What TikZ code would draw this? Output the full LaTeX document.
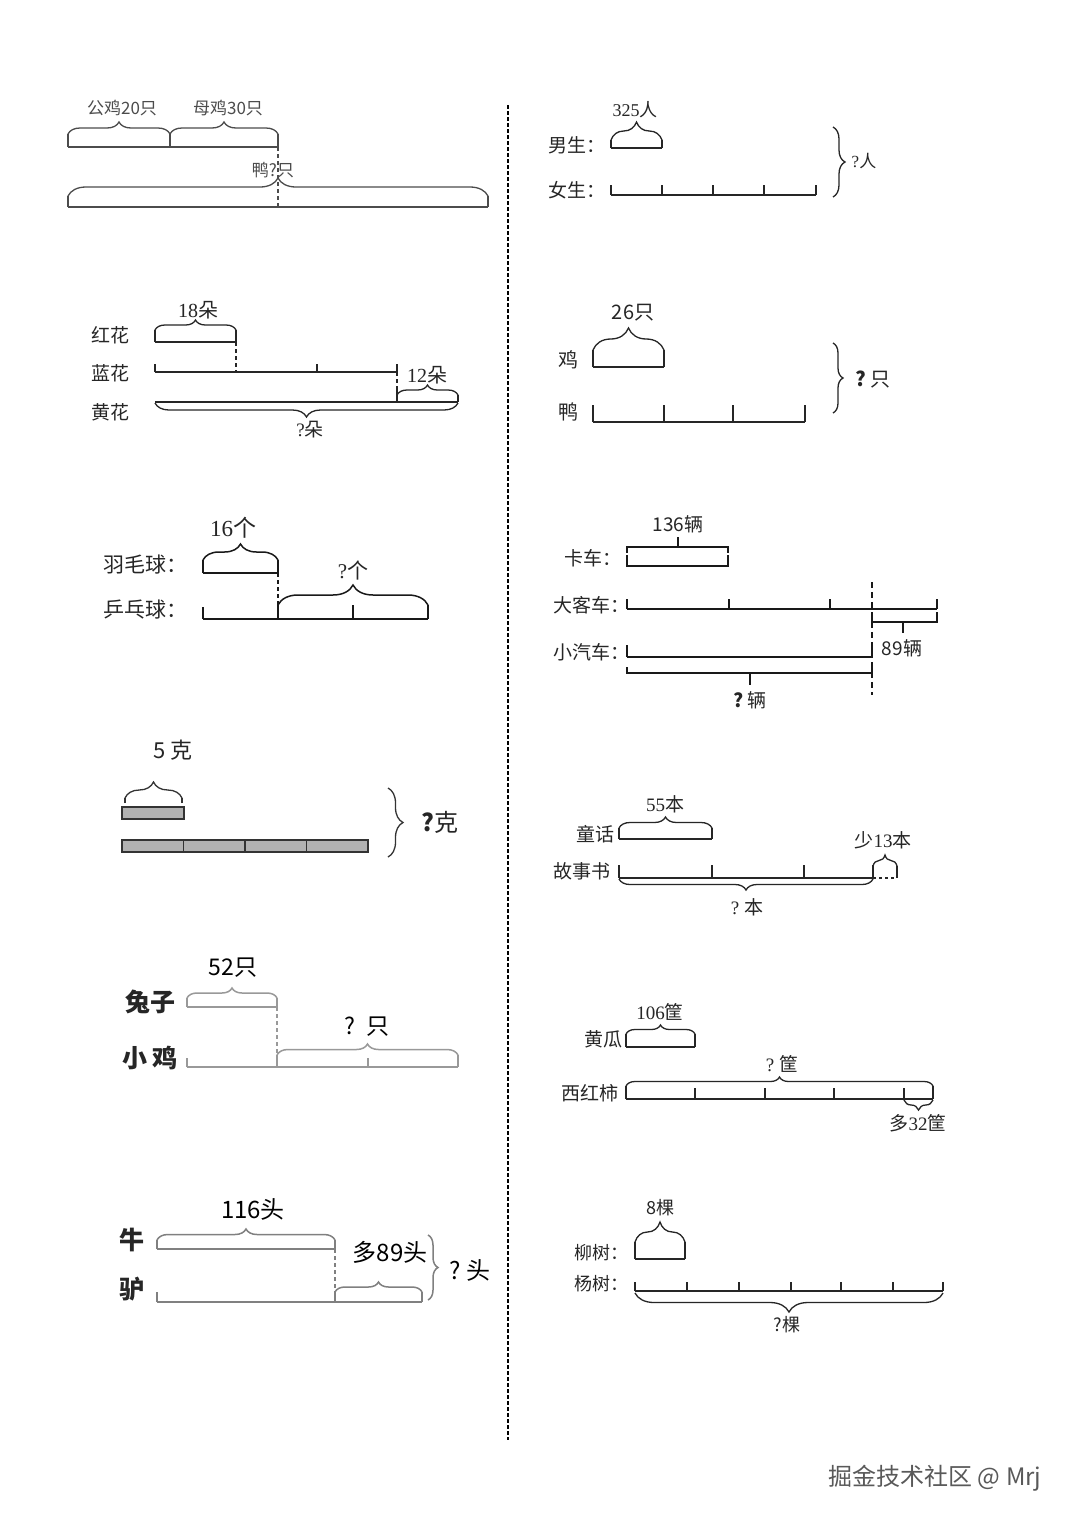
\documentclass[tikz,border=0pt]{standalone}
\usepackage{fontspec}
\setmainfont{Liberation Serif}
\newfontfamily\cjk{Noto Sans CJK SC}
\newcommand\zh[1]{{\cjk #1}}
\usetikzlibrary{decorations.pathreplacing}
\begin{document}
\begin{tikzpicture}[x=1pt,y=-1pt,
  br/.style={decorate,decoration={brace,amplitude=#1}},
  brm/.style={decorate,decoration={brace,amplitude=#1,mirror}},
  dsh/.style={dashed,dash pattern=on 4pt off 3pt},
  fs/.style={font=\fontsize{#1}{#1}\selectfont,inner sep=0pt,text=black!85},
  cj/.style={font=\cjk\fontsize{#1}{#1}\selectfont,inner sep=0pt,text=black!85},
  cjb/.style={font=\cjk\bfseries\fontsize{#1}{#1}\selectfont,inner sep=0pt,text=black!85}]
\fill[white] (0,0) rectangle (1080,1527);
\useasboundingbox (0,0) rectangle (1080,1527);
% divider
\coordinate (dtop) at (508,105);
\coordinate (dbot) at (508,1440);
\draw[line width=1.5pt,dash pattern=on 4pt off 2pt] (dtop) -- (dbot);

% ===== Panel 1 =====
\begin{scope}[every path/.style={line width=1.3pt,draw=black!70}]
\draw (68,147) -- (278,147);
\draw (68,147) -- (68,134) (170,147) -- (170,134) (278,147) -- (278,134);
\draw[br=12] (68,134) -- (170,134);
\draw[br=12] (170,134) -- (278,134);
\draw[dsh] (278,147) -- (278,207);
\draw (68,207) -- (488,207);
\draw (68,207) -- (68,196) (488,207) -- (488,196);
\draw[br=18] (68,196) -- (488,196);
\end{scope}
\node[cj=17,text=black!70] (p1a) at (122,108) {公鸡20只};
\node[cj=17,text=black!70] (p1b) at (228,108) {母鸡30只};
\node[cj=17,text=black!70] (p1c) at (273,170) {鸭?只};

% ===== Panel 2 =====
\begin{scope}[every path/.style={line width=1.3pt,draw=black!85}]
\draw (155,342) -- (236,342);
\draw (155,342) -- (155,330) (236,342) -- (236,330);
\draw[br=10] (155,330) -- (236,330);
\draw[dsh] (236,342) -- (236,372);
\draw (155,372) -- (397,372);
\draw (155,372) -- (155,364) (317,372) -- (317,364) (397,372) -- (397,364);
\draw[dsh] (397,372) -- (397,392);
\draw (397,390) -- (397,402) (458,402) -- (458,395);
\draw[br=10] (397,395) -- (458,395);
\draw (155,402) -- (458,402);
\draw[brm=14] (155,403) -- (458,403);
\end{scope}
\node[cj=19] (p2a) at (110,335) {红花};
\node[cj=19] (p2b) at (110,373) {蓝花};
\node[cj=19] (p2c) at (110,412) {黄花};
\node[fs=20] (p2d) at (198,310) {18\zh{朵}};
\node[fs=20] (p2e) at (427,375) {12\zh{朵}};
\node[fs=19] (p2f) at (310,430) {?\zh{朵}};

% ===== Panel 3 =====
\begin{scope}[every path/.style={line width=1.5pt,draw=black!90}]
\draw (203,573) -- (278,573);
\draw (203,573) -- (203,560) (278,573) -- (278,560);
\draw[br=16] (203,560) -- (278,560);
\draw[dsh] (278,573) -- (278,605);
\draw (203,619) -- (428,619);
\draw (203,619) -- (203,607) (353,619) -- (353,605) (278,619) -- (278,605) (428,619) -- (428,605);
\draw[br=20] (278,605) -- (428,605);
\end{scope}
\node[cj=21] (p3a) at (145,565) {羽毛球：};
\node[cj=21] (p3b) at (145,610) {乒乓球：};
\node[fs=23] (p3c) at (233,528) {16\zh{个}};
\node[fs=21] (p3d) at (353,570) {?\zh{个}};

% ===== Panel 4 =====
\begin{scope}[every path/.style={line width=1.3pt,draw=black!80}]
\draw (125,803) -- (125,798) (182,803) -- (182,798);
\draw[br=16] (125,798) -- (182,798);
\draw[fill=black!30] (122,807) rectangle (184,819);
\draw[fill=black!30] (122,840) rectangle (368,852);
\draw (183.5,840) -- (183.5,852) (245,840) -- (245,852) (306.5,840) -- (306.5,852);
\draw[br=15] (388,788) -- (388,857);
\end{scope}
\node[cj=22] (p4a) at (173,750) {5 克};
\node[cj=24] (p4b) at (440,822) {{\bfseries ?}克};

% ===== Panel 5 =====
\begin{scope}[every path/.style={line width=1.5pt,draw=black!40}]
\draw (187,1007) -- (277,1007);
\draw (187,1007) -- (187,998) (277,1007) -- (277,998);
\draw[br=10] (187,998) -- (277,998);
\draw[dsh] (277,1007) -- (277,1067);
\draw (187,1067) -- (458,1067);
\draw (187,1067) -- (187,1058) (368,1067) -- (368,1058) (277,1067) -- (277,1055) (458,1067) -- (458,1055);
\draw[br=11] (277,1055) -- (458,1055);
\end{scope}
\node[cjb=25] (p5a) at (150,1002) {兔子};
\node[cjb=25] (p5b) at (150,1058) {小\,鸡};
\node[cj=23,text=black] (p5c) at (233,968) {52只};
\node[cj=23,text=black] (p5d) at (367,1027) {?\ \ 只};

% ===== Panel 6 =====
\begin{scope}[every path/.style={line width=1.5pt,draw=black!50}]
\draw (157,1249) -- (335,1249);
\draw (157,1249) -- (157,1240) (335,1249) -- (335,1240);
\draw[br=11] (157,1240) -- (335,1240);
\draw[dsh] (335,1249) -- (335,1302);
\draw (157,1302) -- (422,1302);
\draw (157,1302) -- (157,1292) (335,1302) -- (335,1292) (422,1302) -- (422,1292);
\draw[br=10] (335,1292) -- (422,1292);
\draw[br=10] (428,1235) -- (428,1300);
\end{scope}
\node[cjb=25] (p6a) at (132,1240) {牛};
\node[cjb=25] (p6b) at (132,1289) {驴};
\node[cj=24,text=black] (p6c) at (253,1209) {116头};
\node[cj=24,text=black] (p6d) at (390,1252) {多89头};
\node[cj=24,text=black] (p6e) at (470,1270) {?\ 头};

% ===== Panel 7 =====
\begin{scope}[every path/.style={line width=1.3pt,draw=black!85}]
\draw (611,148) -- (662,148);
\draw (611,148) -- (611,140) (662,148) -- (662,140);
\draw[br=18] (611,140) -- (662,140);
\draw (611,195) -- (816,195);
\foreach \x in {611,662,713,764,816} \draw (\x,195) -- (\x,185);
\draw[br=12] (833,127) -- (833,197);
\end{scope}
\node[cj=19] (p7a) at (577,145) {男生：};
\node[cj=19] (p7b) at (577,190) {女生：};
\node[fs=18] (p7c) at (635,110) {325\zh{人}};
\node[fs=17] (p7d) at (864,161) {?\zh{人}};

% ===== Panel 8 =====
\begin{scope}[every path/.style={line width=1.3pt,draw=black!85}]
\draw (593,367) -- (664,367);
\draw (593,367) -- (593,350) (664,367) -- (664,350);
\draw[br=22] (593,350) -- (664,350);
\draw (593,422) -- (805,422);
\foreach \x in {593,664,733,805} \draw (\x,422) -- (\x,405);
\draw[br=10] (833,343) -- (833,413);
\end{scope}
\node[cj=20] (p8a) at (568,360) {鸡};
\node[cj=20] (p8b) at (568,412) {鸭};
\node[cj=20] (p8c) at (633,313) {26只};
\node[cj=20] (p8d) at (873,380) {{\bfseries ?}\,只};

% ===== Panel 9 =====
\begin{scope}[every path/.style={line width=2.4pt,draw=black!90}]
\draw[line width=1.8pt] (627,553) -- (627,547) -- (728,547) -- (728,553);
\draw[line width=1.8pt] (678,547) -- (678,537);
\draw (627,555) -- (627,566) -- (728,566) -- (728,555);
\draw (627,609) -- (937,609);
\foreach \x in {627,729,830,937} \draw (\x,609) -- (\x,599);
\draw[dash pattern=on 6pt off 4pt] (872,582) -- (872,695);
\draw[line width=1.8pt] (872,612) -- (872,622) -- (937,622) -- (937,612);
\draw[line width=1.8pt] (903,622) -- (903,633);
\draw (627,657) -- (872,657);
\draw (627,657) -- (627,645) (872,657) -- (872,645);
\draw[line width=1.8pt] (627,667) -- (627,673) -- (872,673) -- (872,667);
\draw[line width=1.8pt] (750,673) -- (750,685);
\end{scope}
\node[cj=19] (p9a) at (593,558) {卡车：};
\node[cj=19] (p9b) at (591,605) {大客车：};
\node[cj=19] (p9c) at (591,652) {小汽车：};
\node[cj=19] (p9d) at (678,524) {136辆};
\node[cj=19] (p9e) at (902,648) {89辆};
\node[cj=19] (p9f) at (750,700) {{\bfseries ?}\,辆};

% ===== Panel 10 =====
\begin{scope}[every path/.style={line width=1.3pt,draw=black!85}]
\draw (619,839) -- (712,839);
\draw (619,839) -- (619,828) (712,839) -- (712,828);
\draw[br=11] (619,828) -- (712,828);
\draw (619,878) -- (873,878);
\foreach \x in {619,712,804,873} \draw (\x,878) -- (\x,865);
\draw (897,878) -- (897,866);
\draw[br=11] (873,866) -- (897,866);
\draw[dash pattern=on 3pt off 3pt] (873,878) -- (897,878);
\draw[brm=11] (619,879) -- (873,879);
\end{scope}
\node[cj=19] (p10a) at (595,834) {童话};
\node[cj=19] (p10b) at (582,871) {故事书};
\node[fs=19] (p10c) at (665,804) {55\zh{本}};
\node[fs=19] (p10d) at (883,840) {\zh{少}13\zh{本}};
\node[fs=19] (p10e) at (747,907) {?\ \zh{本}};

% ===== Panel 11 =====
\begin{scope}[every path/.style={line width=1.3pt,draw=black!85}]
\draw (626,1047) -- (695,1047);
\draw (626,1047) -- (626,1034) (695,1047) -- (695,1034);
\draw[br=9] (626,1034) -- (695,1034);
\draw (626,1099) -- (933,1099);
\foreach \x in {695,765,834,904} \draw (\x,1099) -- (\x,1088);
\draw (626,1099) -- (626,1086) (933,1099) -- (933,1086);
\draw[br=9] (626,1086) -- (933,1086);
\draw[brm=10] (904,1100) -- (933,1100);
\end{scope}
\node[cj=19] (p11a) at (603,1039) {黄瓜};
\node[cj=19] (p11b) at (590,1093) {西红柿};
\node[fs=19] (p11c) at (660,1012) {106\zh{筐}};
\node[fs=19] (p11d) at (782,1064) {?\ \zh{筐}};
\node[fs=19] (p11e) at (918,1123) {\zh{多}32\zh{筐}};

% ===== Panel 12 =====
\begin{scope}[every path/.style={line width=1.3pt,draw=black!85}]
\draw (635,1259) -- (685,1259);
\draw (635,1259) -- (635,1242) (685,1259) -- (685,1242);
\draw[br=20] (635,1242) -- (685,1242);
\draw (635,1291) -- (943,1291);
\foreach \x in {635,687,739,791,841,893,943} \draw (\x,1291) -- (\x,1282);
\draw[brm=19] (635,1293) -- (943,1293);
\end{scope}
\node[cj=18] (p12a) at (601,1253) {柳树：};
\node[cj=18] (p12b) at (601,1284) {杨树：};
\node[cj=18] (p12c) at (660,1208) {8棵};
\node[cj=18] (p12d) at (787,1325) {?棵};

% watermark
\node[cj=24,text=black!65] (wm) at (935,1478) {掘金技术社区 @ Mrj};
\end{tikzpicture}
\end{document}
